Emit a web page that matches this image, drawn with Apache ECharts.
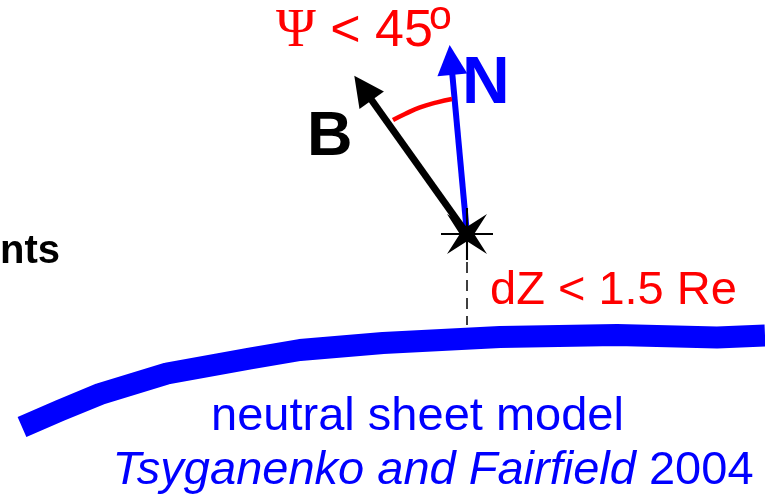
<!DOCTYPE html>
<html><head><meta charset="utf-8">
<script src="https://cdn.jsdelivr.net/npm/echarts@6/dist/echarts.min.js"></script>
<style>html,body{margin:0;padding:0;background:#fff}#c{width:765px;height:495px}</style>
</head><body><div id="c"></div>
<script>
// neutral sheet model curve (diagram coordinates, y grows downward)
const sheetX = [22, 60, 100, 167, 250, 300, 383, 500, 617, 717, 765];
const sheetY = [427, 410.5, 394, 373.5, 358.5, 350, 343, 337, 335, 337.5, 335.5];
// dashed distance line dZ
const dashX = [467, 467];
const dashY = [262, 325];
// angle arc Psi
const arcX = [393, 405, 420, 437, 452];
const arcY = [120, 114, 107.4, 102.4, 99];
// observation point
const starPoint = [467, 234];
// vectors N and B (start, head centre)
const nArrow = [[467, 234], [451, 60]];
const bArrow = [[467, 234], [363, 88]];
// texts
const labelTexts = ['{g|Ψ} < 45', 'o', 'N', 'B', 'nts', 'dZ < 1.5 Re', 'neutral sheet model', '{i|Tsyganenko and Fairfield} 2004'];
const labelX = [276, 429, 462, 307, 0, 490, 417.5, 433];
const labelY = [32, 18, 85, 138, 252, 290.7, 416.7, 470.7];

const labelStyles = [
  {color: '#ff0000', fontSize: 52, align: 'left', rich: {g: {fontFamily: 'Liberation Serif', fontSize: 54, color: '#ff0000'}}},
  {color: '#ff0000', fontSize: 41, align: 'left'},
  {color: '#0000ff', fontSize: 66, fontWeight: 'bold', align: 'left'},
  {color: '#000000', fontSize: 63, fontWeight: 'bold', align: 'left'},
  {color: '#000000', fontSize: 40, fontWeight: 'bold', align: 'left'},
  {color: '#ff0000', fontSize: 47, align: 'left'},
  {color: '#0000ff', fontSize: 47, align: 'center'},
  {color: '#0000ff', fontSize: 47, align: 'center', rich: {i: {fontStyle: 'italic', fontSize: 47, color: '#0000ff', fontFamily: 'Liberation Sans'}}}
];

const zip = (xs, ys) => xs.map((x, i) => [x, ys[i]]);

const starPath = 'path://M0,0 L50,32 L100,0 L68,50 L100,100 L50,68 L0,100 L32,50 Z';
const crossPath = 'path://M0,48 L100,48 L100,52 L0,52 Z M48,0 L52,0 L52,100 L48,100 Z';

const chart = echarts.init(document.getElementById('c'), null, {renderer: 'canvas'});
chart.setOption({
  animation: false,
  backgroundColor: '#ffffff',
  textStyle: {fontFamily: 'Liberation Sans'},
  grid: {left: 0, right: 0, top: 0, bottom: 0},
  xAxis: {type: 'value', min: 0, max: 765, show: false},
  yAxis: {type: 'value', min: 0, max: 495, inverse: true, show: false},
  series: [
    {type: 'line', data: zip(sheetX, sheetY), showSymbol: false, symbol: 'none', silent: true,
      lineStyle: {color: '#0000ff', width: 22, cap: 'butt', join: 'round', opacity: 1}},
    {type: 'line', data: zip(dashX, dashY), showSymbol: false, symbol: 'none', silent: true,
      lineStyle: {color: '#000000', width: 1.5, type: [11, 7], opacity: 1}},
    {type: 'line', data: zip(arcX, arcY), showSymbol: false, symbol: 'none', smooth: true, silent: true,
      lineStyle: {color: '#ff0000', width: 4.5, opacity: 1}},
    {type: 'lines', coordinateSystem: 'cartesian2d', silent: true,
      symbol: ['none', 'triangle'], symbolSize: [1, 30],
      data: [
        {coords: nArrow, lineStyle: {color: '#0000ff', width: 6, opacity: 1}},
        {coords: bArrow, lineStyle: {color: '#000000', width: 7, opacity: 1}}
      ],
      lineStyle: {opacity: 1, curveness: 0}},
    {type: 'scatter', silent: true,
      itemStyle: {opacity: 1},
      data: [
        {value: starPoint, symbol: starPath, symbolSize: 40, itemStyle: {color: '#000000', opacity: 1}},
        {value: starPoint, symbol: crossPath, symbolSize: 52, itemStyle: {color: '#000000', opacity: 1}}
      ]},
    {type: 'scatter', silent: true, symbol: 'circle', symbolSize: 1,
      itemStyle: {color: '#ffffff', opacity: 0},
      data: labelTexts.map((t, i) => ({
        value: [labelX[i], labelY[i]],
        label: Object.assign({show: true, opacity: 1, position: [0.5, 0.5], verticalAlign: 'middle',
          fontFamily: 'Liberation Sans', formatter: t}, labelStyles[i])
      }))}
  ]
});
</script>
</body></html>
